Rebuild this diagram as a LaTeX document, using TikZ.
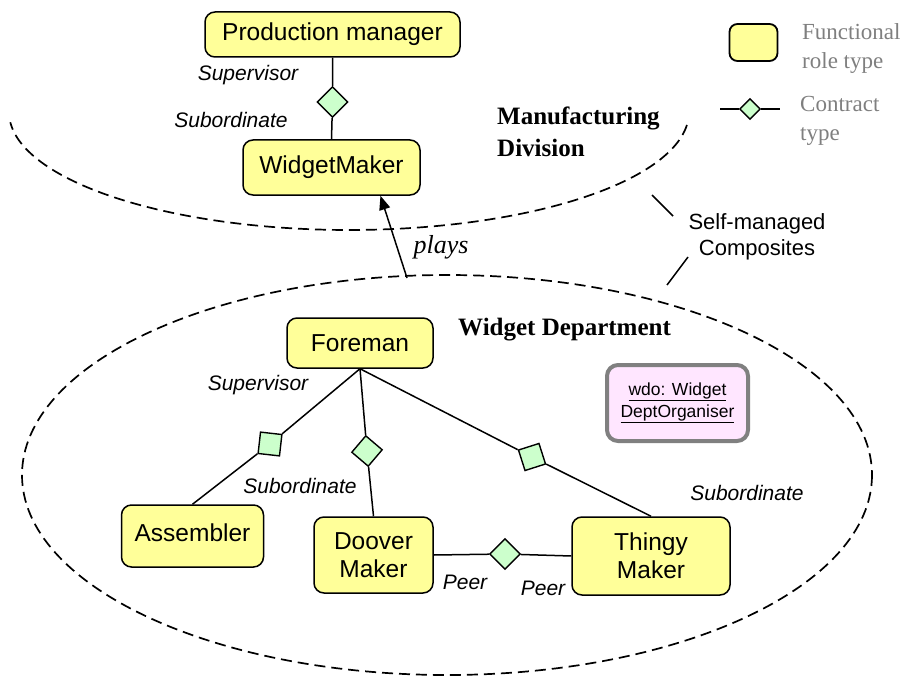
\documentclass[tikz,border=0pt]{standalone}
\usepackage{fontspec}
\setmainfont{Liberation Serif}
\setsansfont{Liberation Sans}
\usetikzlibrary{shapes.geometric,arrows.meta}
\definecolor{roleyellow}{HTML}{FFFF99}
\definecolor{contractgreen}{HTML}{CCFFCC}
\definecolor{orgpink}{HTML}{FFE6FF}
\definecolor{legendgray}{HTML}{7F7F7F}
\definecolor{orggray}{HTML}{808080}
\tikzset{
  role/.style={draw=black, fill=roleyellow, line width=1.5pt, rounded corners=10pt,
    align=center, inner sep=0pt, font=\sffamily\fontsize{24.5}{28}\selectfont},
  contract/.style={diamond, draw=black, fill=contractgreen, line width=1.4pt,
    minimum width=31pt, minimum height=31pt, inner sep=0pt},
  link/.style={line width=1.5pt, draw=black},
  rolelabel/.style={inner sep=0pt, font=\sffamily\itshape\fontsize{21}{24}\selectfont},
  composite/.style={line width=1.7pt, dash pattern=on 11pt off 6pt},
  heading/.style={inner sep=0pt, anchor=west, align=left,
    font=\rmfamily\bfseries\fontsize{25}{32}\selectfont},
  legendtext/.style={inner sep=0pt, anchor=west, align=left, text=legendgray,
    font=\rmfamily\fontsize{23}{29}\selectfont},
  organiser/.style={draw=orggray, fill=orgpink, line width=4pt, rounded corners=11pt,
    align=center, inner sep=0pt, minimum width=141pt, minimum height=76pt,
    font=\sffamily\fontsize{17.5}{22}\selectfont},
}
\begin{document}
\begin{tikzpicture}[x=1pt,y=-1pt]
\useasboundingbox (0,0) rectangle (908,682);

% composite boundaries
\draw[composite] plot[domain=6.3:175, samples=120, smooth]
  ({349+340*cos(\x)},{112+118*sin(\x)});
\draw[composite] (447,475) ellipse [x radius=425, y radius=200];

% Manufacturing Division
\node[role, minimum width=255pt, minimum height=45pt] (pm) at (332.5,34.5) {Production manager};
\node[role, minimum width=177pt, minimum height=55pt] (wm) at (331.5,167.5) {WidgetMaker};
\node[contract] (d1) at (332.5,102) {};
\draw[link] (pm.south) -- (d1) -- (wm.north);
\node[rolelabel] (l1) at (248,75) {Supervisor};
\node[rolelabel] (l2) at (231,120) {Subordinate};
\node[heading] (mfg) at (497,132) {Manufacturing\\Division};

% Widget Department
\node[heading] (wd) at (458,330) {Widget Department};
\node[role, minimum width=146pt, minimum height=50pt] (fm) at (360,343) {Foreman};
\node[role, minimum width=142pt, minimum height=62pt] (asm) at (192.5,536) {\raisebox{6pt}{Assembler}};
\node[role, minimum width=119pt, minimum height=76pt] (dm) at (373.5,555) {Doover\\Maker};
\node[role, minimum width=158pt, minimum height=78pt] (tm) at (651,556) {Thingy\\Maker};

\node[contract, rotate=38.6] (da) at (270,444) {};
\node[contract, rotate=4.6] (db) at (367,451) {};
\node[contract, rotate=-27.3] (dc) at (532,457) {};
\node[contract] (dp) at (505,554) {};

\draw[link] (fm.south) -- (da) -- (asm.north);
\draw[link] (fm.south) -- (db) -- (dm.north);
\draw[link] (fm.south) -- (dc) -- (tm.north);
\draw[link] (dm.east) -- (dp) -- (tm.west);

\node[rolelabel] (l3) at (258,385) {Supervisor};
\node[rolelabel] (l4) at (300,486) {Subordinate};
\node[rolelabel] (l5) at (747,493) {Subordinate};
\node[rolelabel] (l6) at (465,582) {Peer};
\node[rolelabel] (l7) at (543,588) {Peer};

\node[organiser] (wdo) at (677.5,403) {\underline{wdo: Widget}\\\underline{DeptOrganiser}};

% plays relation
\coordinate (pl) at (407,278);
\draw[link, -{Triangle[length=14pt, width=11pt]}] (pl) -- (wm.-30);
\node[inner sep=0pt, font=\rmfamily\itshape\fontsize{26}{30}\selectfont] (plays) at (441,247) {plays};

% composite callout
\node[inner sep=0pt, align=center, font=\sffamily\fontsize{22}{26}\selectfont] (smc) at (757,237) {Self-managed\\Composites};
\coordinate (s1a) at (652,195);
\coordinate (s1b) at (673,216);
\coordinate (s2a) at (688,257);
\coordinate (s2b) at (667,285);
\draw[line width=1.5pt] (s1a) -- (s1b);
\draw[line width=1.5pt] (s2a) -- (s2b);

% legend
\node[draw=black, fill=roleyellow, line width=1.8pt, rounded corners=8pt,
  minimum width=48pt, minimum height=37pt, inner sep=0pt] (lgbox) at (753.5,42.5) {};
\node[legendtext] (lgt1) at (802,49) {Functional\\role type};
\coordinate (lga) at (720,109);
\coordinate (lgb) at (780,109);
\node[contract, minimum width=21pt, minimum height=21pt] (lgd) at (750,109) {};
\draw[link] (lga) -- (lgd) -- (lgb);
\node[legendtext] (lgt2) at (800,121) {Contract\\type};
\end{tikzpicture}
\end{document}
